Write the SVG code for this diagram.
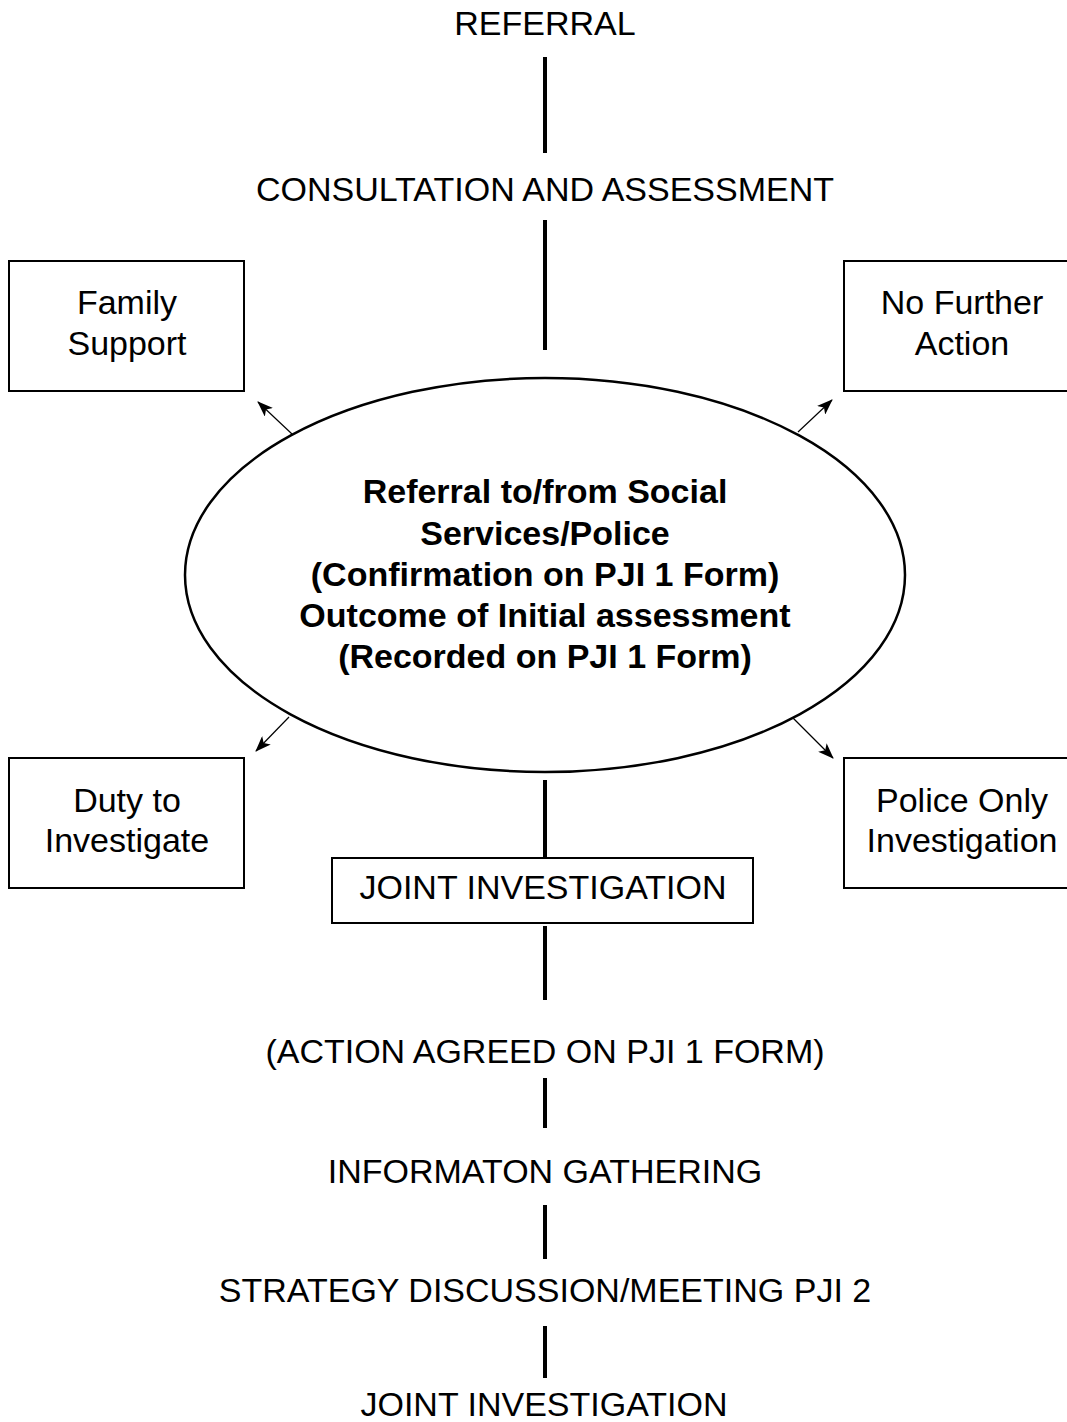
<svg xmlns="http://www.w3.org/2000/svg" width="1067" height="1422" viewBox="0 0 1067 1422">
  <style>
    text { font-family: "Liberation Sans", Arial, sans-serif; font-size: 34px; fill: #000; text-anchor: middle; }
    .bold { font-weight: bold; }
    .box { fill: #fff; stroke: #000; stroke-width: 2; }
    .stem { stroke: #000; stroke-width: 4; fill: none; }
    .arrow { stroke: #000; stroke-width: 1.2; fill: none; marker-end: url(#head); }
  </style>
  <defs>
    <marker id="head" viewBox="0 0 16 12" refX="15" refY="6" markerWidth="16" markerHeight="12" markerUnits="userSpaceOnUse" orient="auto">
      <path d="M0,0 L16,6 L0,12 L4,6 Z" fill="#000"/>
    </marker>
  </defs>
  <rect width="1067" height="1422" fill="#fff"/>

  <!-- spine and arrows -->
  <g id="connectors">
    <line class="stem" x1="545" y1="57" x2="545" y2="153"/>
    <line class="stem" x1="545" y1="220" x2="545" y2="350"/>
    <line class="stem" x1="545" y1="780" x2="545" y2="857"/>
    <line class="stem" x1="545" y1="926" x2="545" y2="1000"/>
    <line class="stem" x1="545" y1="1078" x2="545" y2="1128"/>
    <line class="stem" x1="545" y1="1205" x2="545" y2="1259"/>
    <line class="stem" x1="545" y1="1326" x2="545" y2="1378"/>
    <line class="arrow" x1="292" y1="434" x2="258" y2="402"/>
    <line class="arrow" x1="798" y1="432" x2="832" y2="400"/>
    <line class="arrow" x1="289" y1="717" x2="256" y2="751"/>
    <line class="arrow" x1="793" y1="718" x2="833" y2="758"/>
  </g>

  <g id="referral"><text x="545" y="35">REFERRAL</text></g>
  <g id="consultation"><text x="545" y="201">CONSULTATION AND ASSESSMENT</text></g>

  <g id="family-support">
    <rect class="box" x="9" y="261" width="235" height="130"/>
    <text x="127" y="314">Family</text>
    <text x="127" y="355">Support</text>
  </g>
  <g id="no-further-action">
    <rect class="box" x="844" y="261" width="240" height="130"/>
    <text x="962" y="314">No Further</text>
    <text x="962" y="355">Action</text>
  </g>

  <g id="referral-outcome">
    <ellipse cx="545" cy="575" rx="360" ry="197" fill="#fff" stroke="#000" stroke-width="2.5"/>
    <text class="bold" x="545" y="503">Referral to/from Social</text>
    <text class="bold" x="545" y="545">Services/Police</text>
    <text class="bold" x="545" y="586">(Confirmation on PJI 1 Form)</text>
    <text class="bold" x="545" y="627">Outcome of Initial assessment</text>
    <text class="bold" x="545" y="668">(Recorded on PJI 1 Form)</text>
  </g>

  <g id="duty-to-investigate">
    <rect class="box" x="9" y="758" width="235" height="130"/>
    <text x="127" y="812">Duty to</text>
    <text x="127" y="852">Investigate</text>
  </g>
  <g id="police-only">
    <rect class="box" x="844" y="758" width="240" height="130"/>
    <text x="962" y="812">Police Only</text>
    <text x="962" y="852">Investigation</text>
  </g>

  <g id="joint-investigation-box">
    <rect class="box" x="332" y="858" width="421" height="65"/>
    <text x="543" y="899">JOINT INVESTIGATION</text>
  </g>

  <g id="action-agreed"><text x="545" y="1063">(ACTION AGREED ON PJI 1 FORM)</text></g>
  <g id="information-gathering"><text x="545" y="1183">INFORMATON GATHERING</text></g>
  <g id="strategy"><text x="545" y="1302">STRATEGY DISCUSSION/MEETING PJI 2</text></g>
  <g id="joint-investigation"><text x="544" y="1416">JOINT INVESTIGATION</text></g>
</svg>
